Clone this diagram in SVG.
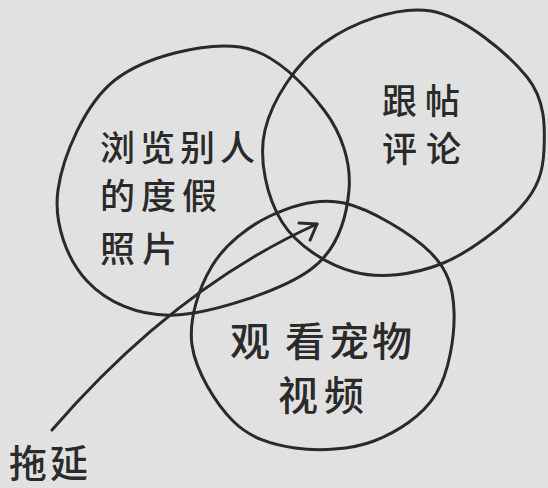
<svg xmlns="http://www.w3.org/2000/svg" width="548" height="488" viewBox="0 0 548 488">
<style>
.c{fill:none;stroke:#2a2a2a;stroke-width:3;stroke-linecap:round;stroke-linejoin:round}
.t{font-family:"Noto Sans CJK SC","Noto Sans",sans-serif;fill:#2a2a2a;font-weight:500}
</style>
<defs>
<marker id="ah" viewBox="-20 -14 24 30" refX="0" refY="0" markerWidth="24" markerHeight="30" orient="auto" markerUnits="userSpaceOnUse">
<path d="M-16,-8.2 L0,0 L-12.9,11.8" fill="none" stroke="#2a2a2a" stroke-width="3" stroke-linecap="round" stroke-linejoin="round"/>
</marker>
</defs>
<rect width="548" height="488" fill="#e1e1e1"/>
<g id="node-browse">
<path class="c" d="M240,47 C274.8,52 305.8,86.2 324,110 C342.2,133.8 351.3,163.3 349,190 C346.7,216.7 339,249.2 310,270 C281,290.8 212.2,313.2 175,315 C137.8,316.8 106.5,301.8 87,281 C67.5,260.2 53.3,223.5 58,190 C62.7,156.5 84.7,103.8 115,80 C145.3,56.2 205.2,42 240,47 Z"/>
<text class="t" font-size="35" x="100" y="161" letter-spacing="5">浏览别人</text>
<text class="t" font-size="35" x="100" y="209" letter-spacing="6">的度假</text>
<text class="t" font-size="35" x="100" y="262" letter-spacing="7">照片</text>
</g>
<g id="node-comment">
<path class="c" d="M431,11 C464.8,16.7 508.2,53.8 527,77 C545.8,100.2 545,128.3 544,150 C543,171.7 538.2,188 521,207 C503.8,226 468.8,253.2 441,264 C413.2,274.8 380.5,279 354,272 C327.5,265 296.8,245.7 282,222 C267.2,198.3 258,159.8 265,130 C272,100.2 296.3,62.8 324,43 C351.7,23.2 397.2,5.3 431,11 Z"/>
<text class="t" font-size="35" x="382" y="114" letter-spacing="8">跟帖</text>
<text class="t" font-size="35" x="382" y="162" letter-spacing="9">评论</text>
</g>
<g id="node-pets">
<path class="c" d="M344,203 C370.7,209 411.7,234 430,252 C448.3,270 453,287.3 454,311 C455,334.7 449.3,372.3 436,394 C422.7,415.7 397.5,432 374,441 C350.5,450 318.5,451.3 295,448 C271.5,444.7 250.2,438.2 233,421 C215.8,403.8 195.5,370.8 192,345 C188.5,319.2 199,287.5 212,266 C225,244.5 248,226.5 270,216 C292,205.5 317.3,197 344,203 Z"/>
<text class="t" font-size="40" x="230 285 329 372" y="356">观看宠物</text>
<text class="t" font-size="40" x="278 324" y="410">视频</text>
</g>
<g id="connectors">
<path class="c" d="M52,430 Q175,288 317,224" marker-end="url(#ah)"/>
</g>
<g id="node-procrastinate">
<text class="t" font-size="38" x="9" y="477" letter-spacing="3">拖延</text>
</g>
</svg>
